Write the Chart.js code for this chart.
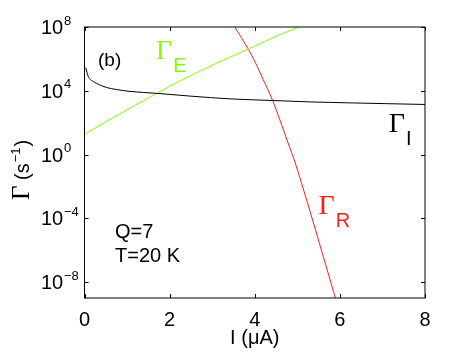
<!DOCTYPE html>
<html>
<head>
<meta charset="utf-8">
<script src="https://cdn.jsdelivr.net/npm/chart.js@4"></script>
<style>
  body { margin: 0; background: #fff; }
  canvas { display: block; }
</style>
</head>
<body>
<canvas id="rates" width="469" height="353"></canvas>
<script>
// Gamma_I (black)
const ionI = [0.03, 0.09, 0.21, 0.35, 0.52, 0.75, 1.07, 1.69, 2.5, 3.42, 4.42, 5.3, 6.23, 7.1, 8];
const ionRate = [2.8e5, 7.8e4, 3.8e4, 2.4e4, 1.6e4, 1.2e4, 9.1e3, 6.9e3, 4.6e3, 3.1e3, 2.45e3, 2.0e3, 1.74e3, 1.55e3, 1.38e3];

// Gamma_E (green)
const escI = [0, 0.5, 1, 1.5, 2, 2.5, 3, 3.5, 4, 4.5, 5, 5.2];
const escRate = [18.6, 112, 631, 3550, 1.9e4, 9.1e4, 4.0e5, 1.58e6, 6.3e6, 2.6e7, 8.9e7, 1.45e8];

// Gamma_R (red)
const relI = [3.4, 3.53, 3.7, 3.85, 4.0, 4.2, 4.42, 4.6, 4.8, 4.93, 5.1, 5.37, 5.6, 5.88, 6.0];
const relRate = [3.5e8, 1e8, 1.9e7, 4.0e6, 7.1e5, 5.0e4, 2.45e3, 126, 4.0, 0.45, 1.6e-2, 6.3e-5, 5.0e-7, 1.35e-9, 1e-10];

const xTicks = [0, 2, 4, 6, 8];
const yPowers = [8, 4, 0, -4, -8];

const GREEN = "#80ff00";
const RED = "#ff1a1a";

const pts = (xs, ys) => xs.map((v, i) => ({ x: v, y: ys[i] }));

// curve labels: [greek, subscript, I, rate, colour]
const curveLabels = [
  ["\u0393", "E", 1.68, 9.5e5, GREEN],
  ["\u0393", "I", 7.15, 26, "#000"],
  ["\u0393", "R", 5.5, 1.9e-4, RED],
];

const frame = {
  id: "frame",
  afterDatasetsDraw(chart) {
    const ctx = chart.ctx;
    const { left, right, top, bottom } = chart.chartArea;
    const xs = chart.scales.x;
    const ys = chart.scales.y;
    ctx.save();
    ctx.strokeStyle = "#000";
    ctx.lineWidth = 1;
    ctx.strokeRect(left, top, right - left, bottom - top);

    ctx.beginPath();
    xTicks.forEach((t) => {
      const px = Math.round(xs.getPixelForValue(t)) + 0.5;
      ctx.moveTo(px, bottom); ctx.lineTo(px, bottom - 4);
      ctx.moveTo(px, top); ctx.lineTo(px, top + 4);
    });
    yPowers.forEach((p) => {
      const py = Math.round(ys.getPixelForValue(Math.pow(10, p))) + 0.5;
      ctx.moveTo(left, py); ctx.lineTo(left + 4, py);
      ctx.moveTo(right, py); ctx.lineTo(right - 4, py);
    });
    ctx.stroke();

    // y tick labels 10^n
    ctx.fillStyle = "#000";
    ctx.textBaseline = "alphabetic";
    ctx.textAlign = "left";
    yPowers.forEach((p) => {
      const py = ys.getPixelForValue(Math.pow(10, p));
      ctx.font = "20px 'Liberation Sans'";
      ctx.fillText("10", 41, py + 7);
      ctx.font = "13px 'Liberation Sans'";
      ctx.fillText(String(p).replace("-", "\u2212"), 64, py - 2.5);
    });

    // y axis title
    ctx.save();
    ctx.translate(28.5, 200);
    ctx.rotate(-Math.PI / 2);
    let cx = 0;
    ctx.font = "25px 'Liberation Serif'";
    ctx.fillText("\u0393", cx, 0);
    cx += ctx.measureText("\u0393").width;
    ctx.font = "20px 'Liberation Sans'";
    ctx.fillText(" (s", cx, 0);
    cx += ctx.measureText(" (s").width;
    ctx.font = "13px 'Liberation Sans'";
    ctx.fillText("\u22121", cx + 1, -9);
    cx += ctx.measureText("\u22121").width + 2;
    ctx.font = "20px 'Liberation Sans'";
    ctx.fillText(")", cx, 0);
    ctx.restore();

    // panel text
    ctx.font = "19px 'Liberation Sans'";
    ctx.fillText("(b)", 98, 66);
    ctx.font = "20px 'Liberation Sans'";
    ctx.fillText("Q=7", 115, 238);
    ctx.fillText("T=20 K", 115, 262);

    // curve labels
    curveLabels.forEach(([g, sub, xv, yv, col]) => {
      const px = xs.getPixelForValue(xv);
      const py = ys.getPixelForValue(yv);
      ctx.fillStyle = col;
      ctx.font = "28px 'Liberation Serif'";
      ctx.fillText(g, px, py);
      const w = ctx.measureText(g).width;
      ctx.font = "20px 'Liberation Sans'";
      ctx.fillText(sub, px + w + 1, py + 13);
    });
    ctx.restore();
  },
};

new Chart(document.getElementById("rates"), {
  type: "line",
  data: {
    datasets: [
      { data: pts(ionI, ionRate), borderColor: "#000" },
      { data: pts(escI, escRate), borderColor: GREEN },
      { data: pts(relI, relRate), borderColor: RED },
    ],
  },
  options: {
    responsive: false,
    animation: false,
    devicePixelRatio: 1,
    layout: { padding: { top: 27, right: 44, left: 0, bottom: 0 } },
    elements: {
      point: { radius: 0 },
      line: { borderWidth: 1, cubicInterpolationMode: "monotone" },
    },
    plugins: { legend: { display: false }, tooltip: { enabled: false } },
    scales: {
      x: {
        type: "linear",
        min: 0,
        max: 8,
        grid: { display: false },
        border: { display: false },
        afterBuildTicks: (axis) => { axis.ticks = xTicks.map((v) => ({ value: v })); },
        ticks: {
          padding: 2,
          color: "#000",
          font: { family: "'Liberation Sans'", size: 20 },
          maxRotation: 0,
        },
        title: {
          display: true,
          text: "I (\u03bcA)",
          color: "#000",
          font: { family: "'Liberation Sans'", size: 20 },
          padding: { top: 0, bottom: 3 },
        },
        afterFit: (axis) => { axis.height = 55; },
      },
      y: {
        type: "logarithmic",
        min: 1e-9,
        max: 1e8,
        grid: { display: false },
        border: { display: false },
        ticks: { display: false },
        afterFit: (axis) => { axis.width = 84.5; },
      },
    },
  },
  plugins: [frame],
});
</script>
</body>
</html>
